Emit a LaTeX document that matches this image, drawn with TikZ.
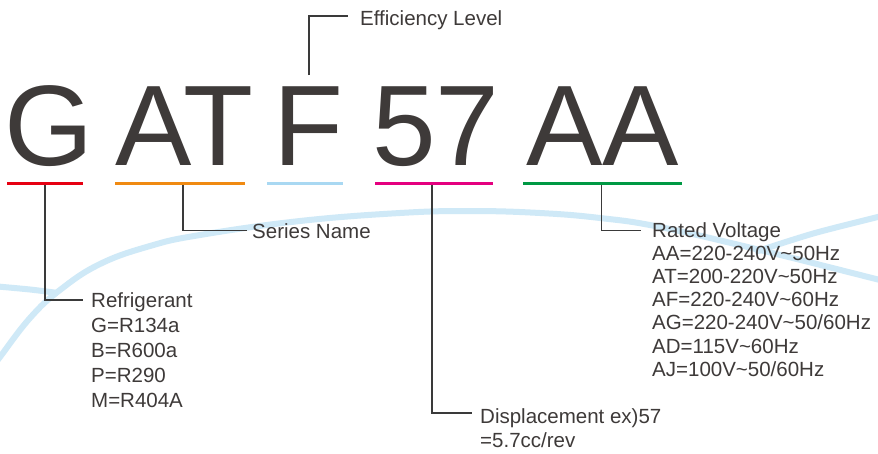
\documentclass[tikz,border=0pt]{standalone}
\usepackage{fontspec}
\setmainfont{Liberation Sans}
\definecolor{txt}{HTML}{3E3A39}
\definecolor{leadc}{HTML}{3A3A3A}
\definecolor{cred}{HTML}{E60012}
\definecolor{corange}{HTML}{F08A12}
\definecolor{clblue}{HTML}{A9D8F2}
\definecolor{cmag}{HTML}{E4007F}
\definecolor{cgreen}{HTML}{009944}
\definecolor{swc}{HTML}{CFE9F7}
\begin{document}
\begin{tikzpicture}[x=1pt,y=-1pt,
  big/.style={font=\fontsize{114.5}{114.5}\selectfont, text=txt, inner sep=0pt, anchor=base},
  lbl/.style={font=\fontsize{20.5}{24}\selectfont, text=txt, inner sep=0pt, anchor=base west},
  lead/.style={draw=leadc, line width=1.2pt},
  uline/.style={line width=3pt},
  swoosh/.style={draw=swc, line width=6pt}]
\useasboundingbox[fill=white] (0,0) rectangle (878,453);

% background swooshes
\draw[swoosh] plot[smooth, tension=0.7] coordinates {(-8,368) (0,357) (30,318) (60,290) (100,264) (150,246) (200,235) (300,221) (400,213) (470,211) (540,213) (600,218) (660,227) (760,250) (880,280) (900,285)};
\draw[swoosh] plot[smooth] coordinates {(-8,286) (30,289.5) (58,293)};
\draw[swoosh] plot[smooth] coordinates {(755,252) (815,233) (890,214)};

% big code letters
\node[big] (G) at (49,165) {G};
\node[big] (AT) at (184.5,165) {AT};
\node[big] (F) at (308.5,165) {F};
\node[big] (N57) at (436,165) {57};
\node[big] (AA) at (602.5,165) {AA};

% underlines
\draw[uline, draw=cred]    (7,183.5)   coordinate (u1a) -- (83,183.5)  coordinate (u1b);
\draw[uline, draw=corange] (115,183.5) coordinate (u2a) -- (245,183.5) coordinate (u2b);
\draw[uline, draw=clblue]  (267,183.5) coordinate (u3a) -- (343,183.5) coordinate (u3b);
\draw[uline, draw=cmag]    (375,183.5) coordinate (u4a) -- (493,183.5) coordinate (u4b);
\draw[uline, draw=cgreen]  (523,183.5) coordinate (u5a) -- (682,183.5) coordinate (u5b);

% leader lines
\coordinate (l1s) at (45,185);    \coordinate (l1e) at (83,300);
\coordinate (l2s) at (183,185);   \coordinate (l2e) at (247,230.5);
\coordinate (l3s) at (309,75);    \coordinate (l3e) at (348,16);
\coordinate (l4s) at (432,185);   \coordinate (l4e) at (472,413);
\coordinate (l5s) at (601.5,185); \coordinate (l5e) at (641,230.5);
\draw[lead] (l1s) |- (l1e);
\draw[lead] (l2s) |- (l2e);
\draw[lead] (l3s) |- (l3e);
\draw[lead] (l4s) |- (l4e);
\draw[lead] (l5s) |- (l5e);

% labels
\node[lbl] (eff) at (360,25) {Efficiency Level};
\node[lbl] (ser) at (252,238) {Series Name};

\node[lbl] (ref)  at (91,307) {Refrigerant};
\node[lbl] (ref1) at (91,332) {G=R134a};
\node[lbl] (ref2) at (91,357) {B=R600a};
\node[lbl] (ref3) at (91,382) {P=R290};
\node[lbl] (ref4) at (91,407) {M=R404A};

\node[lbl] (dis)  at (480,423) {Displacement ex)57};
\node[lbl] (dis1) at (480,447) {=5.7cc/rev};

\node[lbl] (rv)  at (652,237)   {Rated Voltage};
\node[lbl] (rv1) at (652,260.2) {AA=220-240V\char"007E 50Hz};
\node[lbl] (rv2) at (652,283.4) {AT=200-220V\char"007E 50Hz};
\node[lbl] (rv3) at (652,306.6) {AF=220-240V\char"007E 60Hz};
\node[lbl] (rv4) at (652,329.8) {AG=220-240V\char"007E 50/60Hz};
\node[lbl] (rv5) at (652,353)   {AD=115V\char"007E 60Hz};
\node[lbl] (rv6) at (652,376.2) {AJ=100V\char"007E 50/60Hz};
\end{tikzpicture}
\end{document}
